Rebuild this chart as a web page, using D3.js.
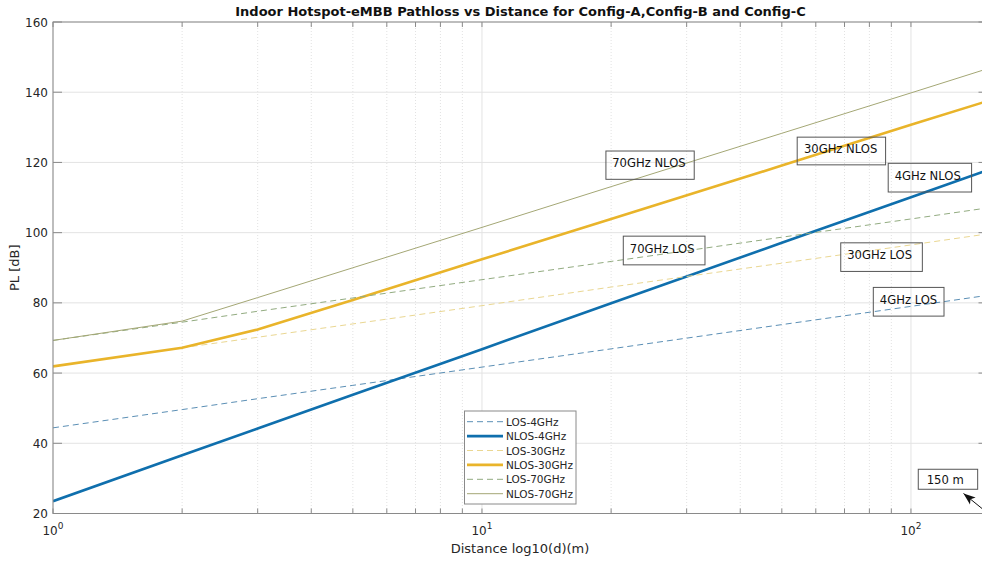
<!DOCTYPE html>
<html>
<head>
<meta charset="utf-8">
<script src="https://cdn.jsdelivr.net/npm/d3@7"></script>
<style>
  html, body { margin: 0; padding: 0; background: #fff; }
  svg { display: block; font-family: "DejaVu Sans", sans-serif; }
</style>
</head>
<body>
<svg id="chart" width="982" height="563"></svg>
<script>
// ---- data ----
const distances = [1, 2, 3, 5, 10, 20, 50, 100, 150];
const los4   = [44.4, 49.6, 52.7, 56.5, 61.7, 66.9, 73.8, 79.0, 82.1];
const nlos4  = [23.5, 36.6, 44.2, 53.8, 66.8, 79.9, 97.1, 110.1, 117.7];
const los30  = [61.9, 67.2, 70.2, 74.0, 79.2, 84.5, 91.3, 96.5, 99.6];
const nlos30 = [61.9, 67.2, 72.4, 80.8, 92.4, 103.9, 119.1, 130.7, 137.4];
const los70  = [69.3, 74.5, 77.6, 81.4, 86.6, 91.8, 98.7, 103.9, 107.0];
const nlos70 = [69.3, 74.8, 81.5, 90.0, 101.5, 113.1, 128.3, 139.8, 146.6];

const seriesNames = ["LOS-4GHz", "NLOS-4GHz", "LOS-30GHz", "NLOS-30GHz", "LOS-70GHz", "NLOS-70GHz"];
const seriesValues = [los4, nlos4, los30, nlos30, los70, nlos70];
const yTicks = [20, 40, 60, 80, 100, 120, 140, 160];
const xMajorTicks = [1, 10, 100];
const xTickExponents = ["0", "1", "2"];

const annoLabels = ["70GHz NLOS", "30GHz NLOS", "4GHz NLOS", "70GHz LOS", "30GHz LOS", "4GHz LOS", "150 m"];
// annotation box top-left corner in data space (distance, PL)
const annoDist = [19.45, 54.3, 88.5, 21.35, 68.6, 81.7, 104.0];
const annoPL   = [123.25, 127.2, 119.75, 99.0, 97.1, 84.4, 32.6];

const titleText = "Indoor Hotspot-eMBB Pathloss vs Distance for Config-A,Config-B and Config-C";
const xLabelText = "Distance log10(d)(m)";
const yLabelText = "PL [dB]";

// ---- styles ----
const styles = [
  { color: "#5b8fb5", width: 1, dash: "6,4" },
  { color: "#0f6fad", width: 2.6, dash: null },
  { color: "#ead792", width: 1, dash: "6,4" },
  { color: "#e9b42a", width: 2.6, dash: null },
  { color: "#92ab80", width: 1, dash: "6,4" },
  { color: "#a4a775", width: 1, dash: null }
];
const annoBoxW = [88.3, 88.4, 83.4, 81.7, 81.6, 70.7, 59.4];
const annoBoxH = [28.3, 27.7, 28.7, 28.7, 28.6, 28.7, 20];
const annoTextDx = [6.3, 6.7, 6.5, 6.5, 6.5, 6.5, 8.4];
const annoTextDy = [16.2, 16.2, 16.5, 16.5, 16.5, 16.5, 15];

const svg = d3.select("#chart");
const margin = { left: 53, top: 22, right: 986.5, bottom: 513.5 };

const x = d3.scaleLog().domain([1, 150]).range([margin.left, margin.right]);
const y = d3.scaleLinear().domain([20, 160]).range([margin.bottom, margin.top]);

const defs = svg.append("defs");
defs.append("clipPath").attr("id", "clip")
  .append("rect").attr("x", margin.left).attr("y", margin.top)
  .attr("width", margin.right - margin.left).attr("height", margin.bottom - margin.top);
defs.append("marker").attr("id", "arrow").attr("viewBox", "0 0 12 10")
  .attr("refX", 12).attr("refY", 5).attr("markerWidth", 12).attr("markerHeight", 10)
  .attr("markerUnits", "userSpaceOnUse").attr("orient", "auto")
  .append("path").attr("d", "M12,5 L0,0.5 L3,5 L0,9.5 Z").attr("fill", "#111");

// grid
const minorTicks = x.ticks().filter(v => ![1, 10, 100].includes(v));
const gridG = svg.append("g");
gridG.selectAll(".hg").data(yTicks).enter().append("line")
  .attr("x1", margin.left).attr("x2", margin.right)
  .attr("y1", d => y(d)).attr("y2", d => y(d))
  .attr("stroke", "#e3e3e3").attr("stroke-width", 1);
gridG.selectAll(".vmin").data(minorTicks).enter().append("line")
  .attr("x1", d => x(d)).attr("x2", d => x(d))
  .attr("y1", margin.top).attr("y2", margin.bottom)
  .attr("stroke", "#e2e2e2").attr("stroke-width", 1).attr("stroke-dasharray", "1,2");
gridG.selectAll(".vmaj").data(xMajorTicks).enter().append("line")
  .attr("x1", d => x(d)).attr("x2", d => x(d))
  .attr("y1", margin.top).attr("y2", margin.bottom)
  .attr("stroke", "#e3e3e3").attr("stroke-width", 1);

// lines
const lineGen = d3.line().x(d => x(d[0])).y(d => y(d[1]));
const plotG = svg.append("g").attr("clip-path", "url(#clip)");
seriesValues.forEach((vals, i) => {
  const pts = distances.map((d, j) => [d, vals[j]]);
  plotG.append("path").datum(pts)
    .attr("d", lineGen).attr("fill", "none")
    .attr("stroke", styles[i].color).attr("stroke-width", styles[i].width)
    .attr("stroke-dasharray", styles[i].dash);
});

// axes box
const axisColor = "#8a8a8a";
svg.append("rect").attr("x", margin.left).attr("y", margin.top)
  .attr("width", margin.right - margin.left).attr("height", margin.bottom - margin.top)
  .attr("fill", "none").attr("stroke", axisColor).attr("stroke-width", 1);

// x ticks (bottom & top, inward)
const allX = x.ticks();
svg.selectAll(".xtb").data(allX).enter().append("line")
  .attr("x1", d => x(d)).attr("x2", d => x(d))
  .attr("y1", margin.bottom).attr("y2", margin.bottom - 5)
  .attr("stroke", axisColor);
svg.selectAll(".xtt").data(allX).enter().append("line")
  .attr("x1", d => x(d)).attr("x2", d => x(d))
  .attr("y1", margin.top).attr("y2", margin.top + 5)
  .attr("stroke", axisColor);
// y ticks (left & right, inward)
svg.selectAll(".ytl").data(yTicks).enter().append("line")
  .attr("x1", margin.left).attr("x2", margin.left + 9)
  .attr("y1", d => y(d)).attr("y2", d => y(d)).attr("stroke", axisColor);
svg.selectAll(".ytr").data(yTicks).enter().append("line")
  .attr("x1", margin.right).attr("x2", margin.right - 8)
  .attr("y1", d => y(d)).attr("y2", d => y(d)).attr("stroke", axisColor);

// tick labels
const tickColor = "#262626";
svg.selectAll(".ytl-t").data(yTicks).enter().append("text")
  .attr("x", margin.left - 5).attr("y", d => y(d) + 4.5)
  .attr("text-anchor", "end").attr("font-size", 12).attr("fill", tickColor)
  .text(d => d);
xMajorTicks.forEach((v, i) => {
  const t = svg.append("text").attr("x", x(v)).attr("y", 535)
    .attr("text-anchor", "middle").attr("font-size", 12).attr("fill", tickColor);
  t.append("tspan").text("10");
  t.append("tspan").attr("dy", -6).attr("font-size", 9).text(xTickExponents[i]);
});

// title & labels
svg.append("text").attr("x", 520.5).attr("y", 16).attr("text-anchor", "middle")
  .attr("font-size", 13).attr("font-weight", "bold").attr("fill", "#111").text(titleText);
svg.append("text").attr("x", 520).attr("y", 553).attr("text-anchor", "middle")
  .attr("font-size", 13).attr("fill", tickColor).text(xLabelText);
svg.append("text").attr("transform", `translate(19,${(margin.top + margin.bottom) / 2}) rotate(-90)`)
  .attr("text-anchor", "middle").attr("font-size", 13).attr("fill", tickColor).text(yLabelText);

// annotations (transparent boxes)
annoLabels.forEach((lab, i) => {
  const bx = x(annoDist[i]), by = y(annoPL[i]);
  const g = svg.append("g");
  g.append("rect").attr("x", bx).attr("y", by)
    .attr("width", annoBoxW[i]).attr("height", annoBoxH[i])
    .attr("fill", "none").attr("stroke", "#555").attr("stroke-width", 1);
  g.append("text").attr("x", bx + annoTextDx[i]).attr("y", by + annoTextDy[i])
    .attr("font-size", 11.6).attr("fill", "#111").text(lab);
});
// arrow for 150 m
svg.append("line").attr("x1", 990).attr("y1", 515).attr("x2", 963.5).attr("y2", 493.5)
  .attr("stroke", "#111").attr("stroke-width", 1).attr("marker-end", "url(#arrow)");

// legend
const lg = svg.append("g");
lg.append("rect").attr("x", 464.5).attr("y", 411).attr("width", 111.5).attr("height", 93)
  .attr("fill", "#fff").attr("stroke", "#8a8a8a").attr("stroke-width", 1);
seriesNames.forEach((nm, i) => {
  const yy = 421.7 + i * 14.4;
  lg.append("line").attr("x1", 467).attr("x2", 503).attr("y1", yy).attr("y2", yy)
    .attr("stroke", styles[i].color).attr("stroke-width", styles[i].width)
    .attr("stroke-dasharray", styles[i].dash);
  lg.append("text").attr("x", 506).attr("y", yy + 4).attr("font-size", 10.5)
    .attr("fill", tickColor).text(nm);
});
</script>
</body>
</html>
